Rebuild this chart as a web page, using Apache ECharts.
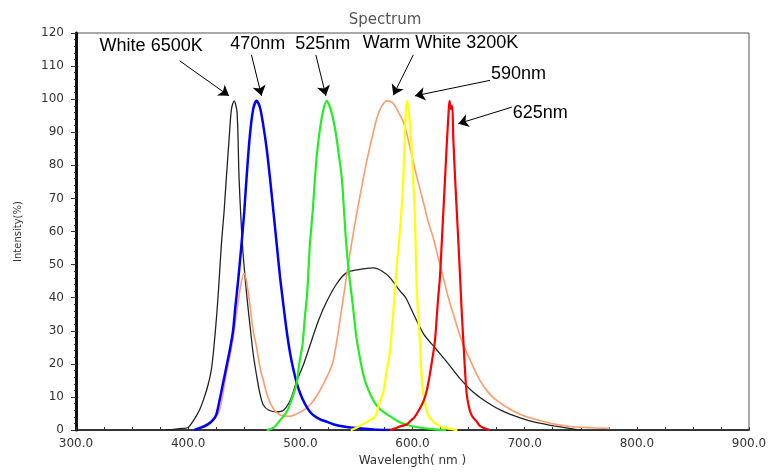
<!DOCTYPE html>
<html>
<head>
<meta charset="utf-8">
<script src="https://cdn.jsdelivr.net/npm/echarts@6/dist/echarts.min.js"></script>
<style>html,body{margin:0;padding:0;background:#fff}#c{width:770px;height:472px}</style>
</head>
<body>
<div id="c"></div>
<script>
// ---- data: [wavelength nm, intensity %] ----
const white6500 = [[380,0],[395,0.5],[400,0.8],[404,2.5],[410,6],[414,9.5],[418,14],[421,19],[424,29],[426.6,40],[429.6,56],[432,66],[434,76],[436.5,88],[438.6,97],[441,99.5],[443.6,96],[445.4,76],[448.4,56],[452,41.5],[455,32],[458,23],[461,16.5],[464,11],[467,7.6],[472,6],[479,5.5],[485,6],[491,9],[497,15],[503,20],[509,26],[516,33],[523,38.5],[532,44],[541,47.5],[552,48.5],[565,49],[573,48],[580,46],[589,42],[594,40],[601,35],[610,29],[621,24.5],[632,20],[642,15.7],[654,11.5],[666,8.5],[680,5.8],[696,3.7],[710,2.3],[726,1.3],[740,0.5],[750,0]];
const warmWhite3200 = [[405,0],[410,0.7],[416,1.7],[422,3],[425,4],[428,6],[431,11],[434,17],[437,22],[440,27.5],[443,35],[446,42],[449.8,47.4],[452,45],[455,38],[458,30],[461,25],[464,19],[467,15],[471,10],[475.7,6.6],[480,5],[485,4.3],[490.6,4.2],[496,4.8],[502,5.8],[508.5,7.6],[514,10],[520,13.6],[525,17],[529,20.5],[533,28],[537,37],[541,46],[545,55],[550,65],[555,74],[559,81],[563,87],[568,94],[572,97.5],[577,99.5],[582,99],[586,97],[592,93],[596,88],[600.7,81],[605,75],[609.6,69],[614,63],[618.6,58],[623,52],[627.5,46],[632,40],[636,35.5],[640,31],[645,26],[651,21.5],[657,17],[663,13.5],[670,10.5],[678,8.2],[687,6.3],[698,4.5],[711,3.1],[725,1.9],[740,1.1],[760,0.7],[776,0.5]];
const blue470 = [[405,0],[412,0.8],[418,1.8],[422,3],[425,4.6],[428,9],[431,14],[434,19],[437,24],[440,30],[442,37],[444.5,45],[447.5,56],[450,66],[452,76],[455,89],[458,97],[461,99.5],[464,97.5],[467,92],[470,85],[473,76],[476,66],[479,56],[482,46],[485,37.5],[488,29.5],[491,23],[494,18],[497,14],[500,11],[504,8],[508,5.8],[512,4.4],[518,3.2],[524,2.5],[530,1.7],[540,1],[550,0.6],[565,0.2],[580,0]];
const green525 = [[470,0],[476,0.7],[482,3],[488,5.6],[492,9],[496.6,14],[499,20],[502,26],[504,34],[506,41],[508.5,56],[511,66],[513,76],[515,84],[517.5,91],[520,96],[523.4,99.5],[527,97],[531,91],[534,84],[537,76],[539,66],[541,56],[543.5,47],[546,40],[548,34],[550,28],[553,22],[556,17],[559,13.6],[565,9],[571,6.3],[580,4.2],[589,2.3],[598,1.3],[607,0.7],[620,0.2],[630,0]];
const yellow590 = [[545,0],[550,0.7],[556,1.8],[562,3],[566.5,4],[570,7.5],[574,11.6],[577,18],[580,24],[582,32],[584.4,42],[586,50],[588,57],[589.5,63],[591.8,76],[593,88],[594.8,99.5],[596.5,97],[599,86],[601,73],[602,66],[603,53],[603.7,44],[605,35],[606.7,26.5],[608,17],[609.6,11],[612,6.5],[614,4.6],[618.6,2.5],[624.5,1.2],[630.5,0.6],[640,0]];
const red625 = [[580,0],[586,0.7],[590,1.2],[594.8,1.7],[598,2.7],[602,4],[606.7,6.6],[609.6,8.6],[612,11],[614,14],[617,20],[620,27],[622,36],[623,40.4],[624.5,46.4],[626,56],[627.5,66],[629,76],[630.5,86],[632,95],[633,99.5],[634.3,97],[635.4,98],[636.4,88],[638,76],[639.5,66],[641,56],[642.4,46.4],[644,35],[645.4,26.5],[647,17],[648.3,11],[650,7.5],[652,5],[654.3,3.7],[657,2.7],[660,1.3],[663,0.7],[669,0]];

// ---- annotations (data coordinates) ----
const annoLabels = ['White 6500K','470nm','525nm','Warm White 3200K','590nm','625nm'];
const annoTextAt = [[367,116.0],[462,116.7],[520,116.7],[625,116.9],[694.5,107.7],[713.8,95.9]];
const arrowFrom = [[392.4,111.6],[456.4,113.4],[513.8,113.4],[600.7,113.4],[669.2,105.7],[688.6,97.6]];
const arrowTo   = [[436.4,101.0],[465.4,101.0],[522.8,101.0],[582.9,101.2],[602.2,101.0],[640.9,92.6]];

// ---- axis ----
const xMin = 300, xMax = 900, xStep = 100;
const yMin = 0, yMax = 120, yStep = 10;

const chart = echarts.init(document.getElementById('c'), null, {renderer:'canvas'});
const mkLine = (name, data, color, width) => ({
  name, type:'line', data, showSymbol:false, smooth:0.3, silent:true,
  lineStyle:{color, width}, itemStyle:{color}, z:2
});
chart.setOption({
  animation:false,
  backgroundColor:'#fff',
  title:{text:'Spectrum', left:'center', top:8,
    textStyle:{color:'#555', fontSize:15, fontWeight:'normal', fontFamily:'DejaVu Sans'}},
  grid:{left:76, right:21, top:33, bottom:36, show:true, borderColor:'#555', borderWidth:1, backgroundColor:'transparent'},
  xAxis:{type:'value', min:xMin, max:xMax, interval:xStep,
    name:'Wavelength( nm )', nameLocation:'middle', nameGap:19,
    nameTextStyle:{color:'#333', fontSize:12, fontFamily:'DejaVu Sans'},
    axisLine:{show:true, lineStyle:{color:'#111', width:1.5}},
    axisTick:{show:true, inside:true, length:3, lineStyle:{color:'#333'}},
    minorTick:{show:true, splitNumber:4, length:3, lineStyle:{color:'#333'}},
    splitLine:{show:false},
    axisLabel:{color:'#333', fontSize:12, fontFamily:'DejaVu Sans', margin:8, formatter:v=>v.toFixed(1),
      showMinLabel:true, showMaxLabel:true}
  },
  yAxis:{type:'value', min:yMin, max:yMax, interval:yStep,
    name:'Intensity(%)', nameLocation:'middle', nameGap:53, nameRotate:90,
    nameTextStyle:{color:'#333', fontSize:10, fontFamily:'DejaVu Sans'},
    axisLine:{show:true, lineStyle:{color:'#111', width:3}},
    axisTick:{show:true, inside:false, length:5, lineStyle:{color:'#333'}},
    minorTick:{show:true, splitNumber:5, length:2, lineStyle:{color:'#333'}},
    splitLine:{show:false},
    axisLabel:{color:'#333', fontSize:12, fontFamily:'DejaVu Sans', margin:12}
  },
  series:[
    mkLine('White 6500K', white6500, '#222', 1.3),
    mkLine('Warm White 3200K', warmWhite3200, '#ff9a6a', 1.6),
    mkLine('470nm', blue470, '#0000ff', 2.5),
    mkLine('525nm', green525, '#22ee22', 2.2),
    mkLine('590nm', yellow590, '#ffff00', 2.2),
    mkLine('625nm', red625, '#ff0000', 2.2),
    {
      name:'annotations', type:'line', data:[], silent:true, z:5,
      markLine:{
        silent:true, animation:false, symbol:['none','arrow'], symbolSize:10,
        lineStyle:{color:'#000', width:1, type:'solid'},
        itemStyle:{color:'#000'},
        label:{show:false},
        data: arrowFrom.map((f,i)=>[{coord:f},{coord:arrowTo[i]}])
      },
      markPoint:{
        silent:true, animation:false, symbol:'circle', symbolSize:1,
        itemStyle:{color:'rgba(0,0,0,0)'},
        label:{show:true, position:'inside', formatter:'{b}', color:'#000', fontSize:18, fontFamily:'Liberation Sans'},
        data: annoLabels.map((t,i)=>({name:t, coord:annoTextAt[i]}))
      }
    }
  ]
});
</script>
</body>
</html>
